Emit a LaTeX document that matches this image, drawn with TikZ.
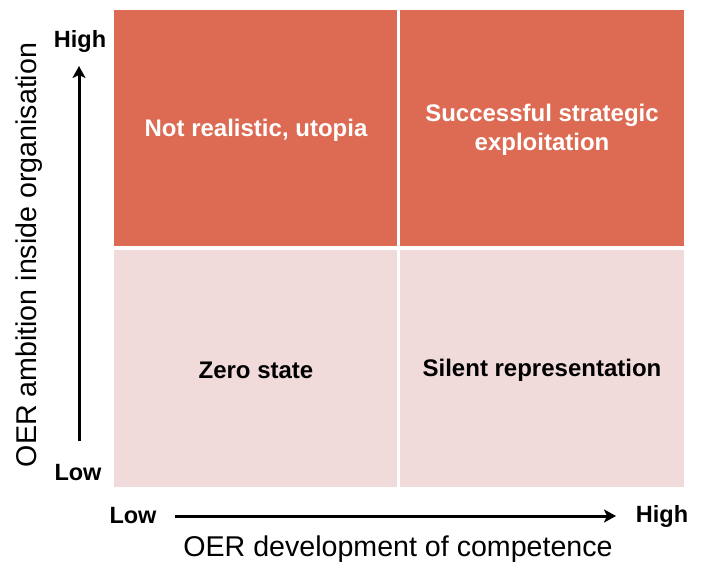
\documentclass[tikz,border=0pt]{standalone}
\usepackage{fontspec}
\setmainfont{Liberation Sans}
\usetikzlibrary{arrows.meta}
\definecolor{hot}{RGB}{221,107,83}
\definecolor{pale}{RGB}{241,218,218}
\tikzset{
  celltext/.style={font=\fontsize{24}{29}\selectfont\bfseries,align=center},
  endlabel/.style={font=\fontsize{23.5}{28}\selectfont\bfseries},
  axistitle/.style={font=\fontsize{28.6}{34}\selectfont},
  axisarrow/.style={line width=3pt,-{Stealth[length=12pt,width=13pt,inset=3pt]}}
}
\begin{document}
\begin{tikzpicture}[x=1pt,y=-1pt]
\useasboundingbox (0,0) rectangle (705,564);
\fill[hot] (114,10) rectangle (397,246);
\fill[hot] (400,10) rectangle (684,246);
\fill[pale] (114,250) rectangle (397,487);
\fill[pale] (400,250) rectangle (684,487);
\node[celltext,text=white] (tl) at (256,130) {Not realistic, utopia};
\node[celltext,text=white] (tr) at (542,130) {Successful strategic\\exploitation};
\node[celltext] (bl) at (256,370) {Zero state};
\node[celltext] (br) at (542,370) {Silent representation};
\node[endlabel] (yhigh) at (80,41) {High};
\node[endlabel] (ylow) at (78,473) {Low};
\node[endlabel] (xlow) at (133,516) {Low};
\node[endlabel] (xhigh) at (662,516) {High};
\coordinate (ys) at (79,441);
\coordinate (ye) at (79,66);
\coordinate (xs) at (175,516);
\coordinate (xe) at (616,516);
\draw[axisarrow] (ys) -- (ye);
\draw[axisarrow] (xs) -- (xe);
\node[axistitle] (xt) at (398,549) {OER development of competence};
\node[axistitle,rotate=90] (yt) at (29,255) {OER ambition inside organisation};
\end{tikzpicture}
\end{document}
